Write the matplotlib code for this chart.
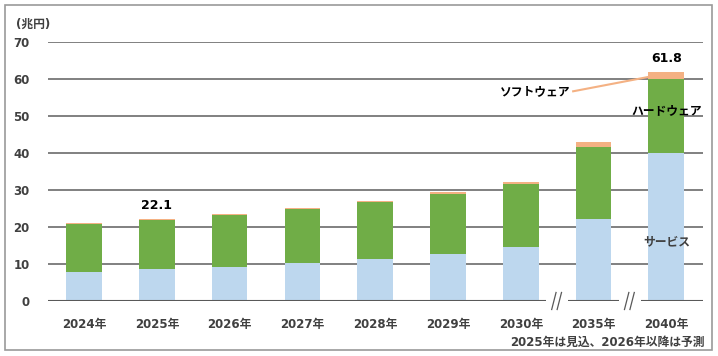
import matplotlib.pyplot as plt
from matplotlib.patches import Rectangle

plt.rcParams['font.family'] = ['DejaVu Sans', 'Noto Sans CJK JP']

# data (兆円)
years = ['2024年', '2025年', '2026年', '2027年', '2028年', '2029年', '2030年', '2035年', '2040年']
service = [7.7, 8.6, 9.3, 10.2, 11.3, 12.8, 14.7, 22.2, 39.9]
hardware = [13.0, 13.2, 14.0, 14.6, 15.3, 16.1, 16.9, 19.5, 20.1]
software = [0.3, 0.3, 0.3, 0.3, 0.4, 0.5, 0.6, 1.1, 1.8]
yticks = [0, 10, 20, 30, 40, 50, 60, 70]
labeled = {1: '22.1', 8: '61.8'}

c_serv = '#BDD7EE'
c_hard = '#70AD47'
c_soft = '#F4B183'
txt = '#404040'

fig = plt.figure(figsize=(7.18, 3.56), dpi=100)
ax = fig.add_axes([0.0664, 0.1545, 0.9123, 0.7285])

# outer frame
fig.patches.append(Rectangle((5 / 718, 6 / 356), 707 / 718, 345 / 356, transform=fig.transFigure,
                             fill=False, edgecolor='#9a9a9a', linewidth=1.2))

x = list(range(len(years)))
w = 0.49
bot2 = [s + h for s, h in zip(service, hardware)]
ax.bar(x, service, w, color=c_serv, zorder=3)
ax.bar(x, hardware, w, bottom=service, color=c_hard, zorder=3)
ax.bar(x, software, w, bottom=bot2, color=c_soft, zorder=3)

for t in yticks[1:]:
    ax.axhline(t, color='#808080', linewidth=1.4, zorder=1)
ax.axhline(0, color='#595959', linewidth=1.5, zorder=4)

ax.set_xlim(-0.5, 8.5)
ax.set_ylim(0, 70)
ax.set_yticks(yticks)
ax.set_xticks(x)
ax.set_xticklabels(years)
ax.tick_params(axis='both', length=0, labelsize=8.5, labelcolor=txt)
ax.tick_params(axis='y', pad=13)
ax.tick_params(axis='x', pad=12)
for lb in ax.get_xticklabels() + ax.get_yticklabels():
    lb.set_fontweight('bold')
for sp in ax.spines.values():
    sp.set_visible(False)

# axis break marks
for bx in [6.5, 7.5]:
    ax.add_patch(Rectangle((bx - 0.15, -1.0), 0.3, 2.0, facecolor='white', edgecolor='none',
                           zorder=5, clip_on=False))
    for dx in [-0.045, 0.03]:
        ax.plot([bx + dx - 0.03, bx + dx + 0.03], [-2.3, 2.3], color='#595959', linewidth=0.9,
                zorder=6, clip_on=False)

# total labels
for i, s in labeled.items():
    tot = service[i] + hardware[i] + software[i]
    ax.annotate(s, (i, tot), xytext=(0, 5), textcoords='offset points', ha='center', va='bottom',
                fontsize=9, fontweight='bold', color='black')

# series labels
ax.text(6.68, 56.5, 'ソフトウェア', ha='right', va='center', fontsize=8.5, fontweight='bold', color='black')
ax.plot([6.72, 7.76], [56.6, 60.5], color=c_soft, linewidth=1.5, zorder=4)
ax.text(8, 51.3, 'ハードウェア', ha='center', va='center', fontsize=8.5, fontweight='bold', color='black', zorder=5)
ax.text(8, 16.1, 'サービス', ha='center', va='center', fontsize=8.5, fontweight='bold', color=txt, zorder=5)

fig.text(16 / 718, 1 - 24 / 356, '(兆円)', ha='left', va='center', fontsize=8.5, fontweight='bold', color=txt)
fig.text(705 / 718, 1 - 342 / 356, '2025年は見込、2026年以降は予測', ha='right', va='center',
         fontsize=8.5, fontweight='bold', color=txt)

fig.savefig('out.png', dpi=100)
